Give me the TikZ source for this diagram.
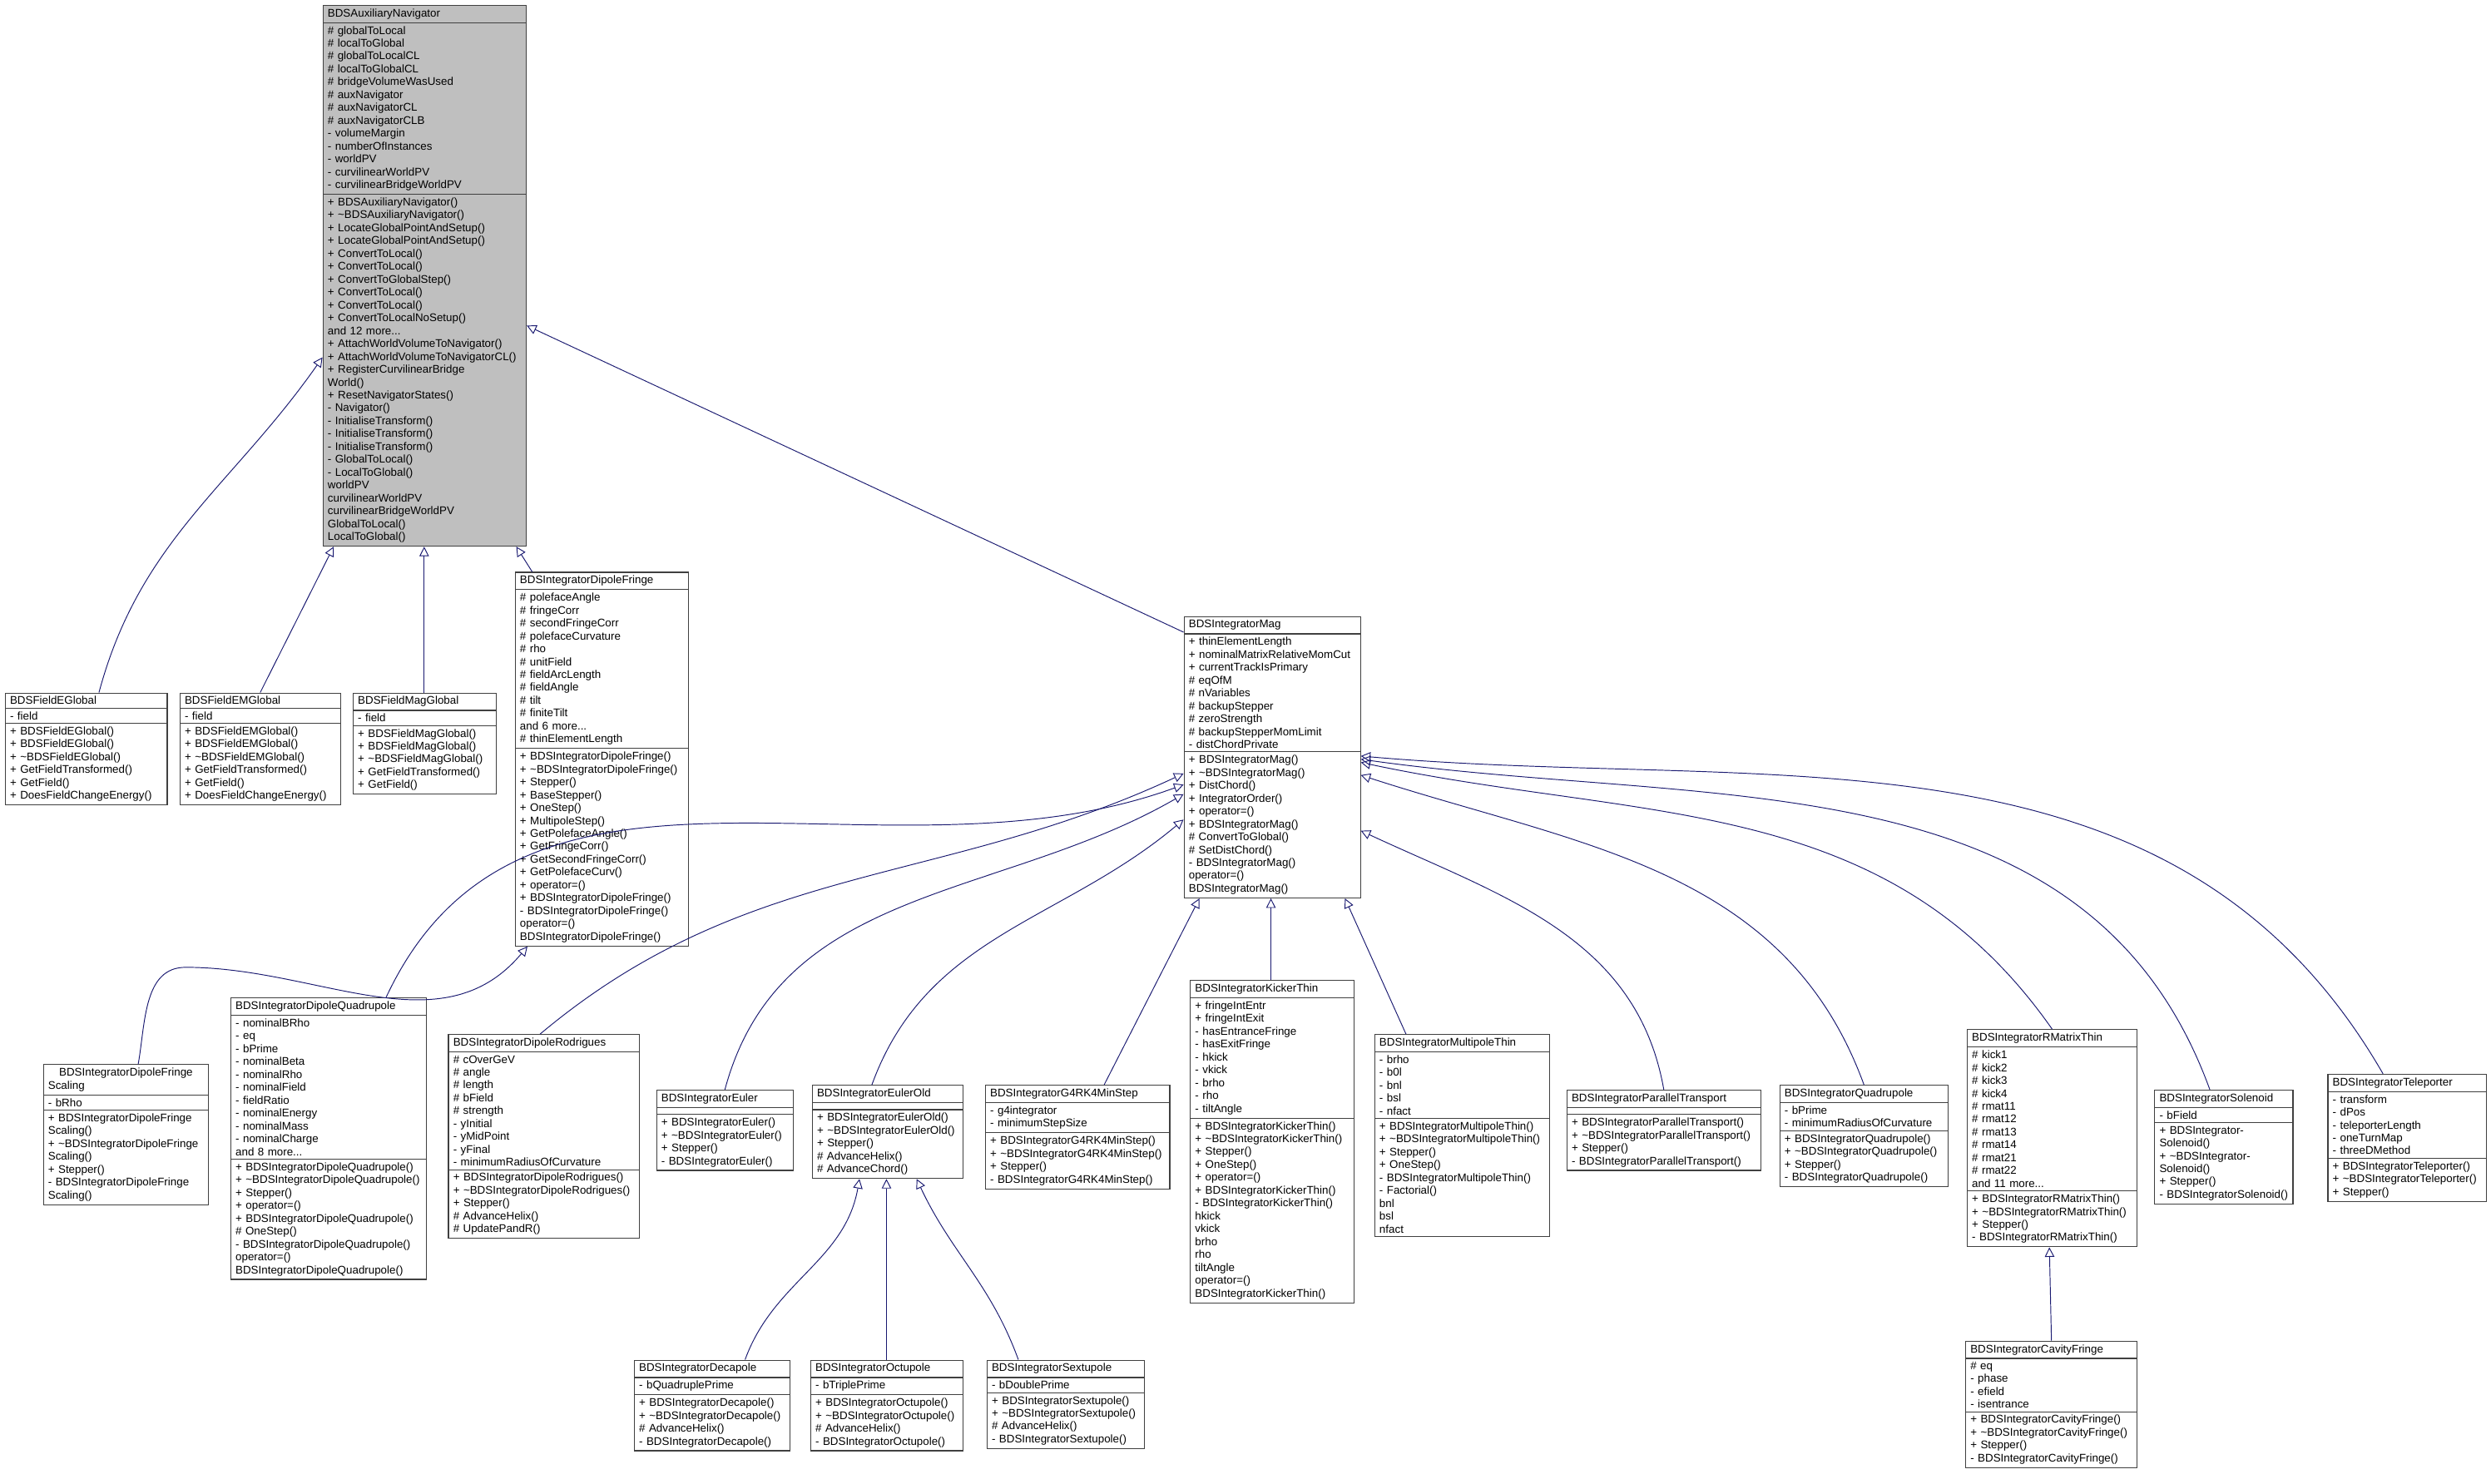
\documentclass[tikz,border=0pt]{standalone}
\usepackage{fontspec}
\setmainfont{Liberation Sans}
\usetikzlibrary{shapes.multipart,arrows.meta,calc}

\definecolor{navyline}{RGB}{25,25,112}
\definecolor{topgray}{RGB}{191,191,191}

\begin{document}
\begin{tikzpicture}[x=1pt,y=-1pt]

% Overall frame
\useasboundingbox (0,0) rectangle (1568,934);

% Styles for classes and inheritance arrows
\tikzset{cls/.style={rectangle split, rectangle split parts=3, draw=black!75, line width=0.6pt,
    anchor=north west, fill=white, align=left, inner xsep=3pt, inner ysep=1.9pt,
    font=\fontsize{7}{8.1}\selectfont},
  inh/.style={draw=navyline, line width=0.5pt, -{Triangle[open,length=6pt,width=6pt]}}}

% Base navigator
\node[cls, fill=topgray, text width=122pt] (nav) at (203,3) {\centering BDSAuxiliaryNavigator
  \nodepart{second}\# globalToLocal\\\# localToGlobal\\\# globalToLocalCL\\\# localToGlobalCL\\\# bridgeVolumeWasUsed\\\# auxNavigator\\\# auxNavigatorCL\\\# auxNavigatorCLB\\- volumeMargin\\- numberOfInstances\\- worldPV\\- curvilinearWorldPV\\- curvilinearBridgeWorldPV
  \nodepart{third}+ BDSAuxiliaryNavigator()\\+ \textasciitilde BDSAuxiliaryNavigator()\\+ LocateGlobalPointAndSetup()\\+ LocateGlobalPointAndSetup()\\+ ConvertToLocal()\\+ ConvertToLocal()\\+ ConvertToGlobalStep()\\+ ConvertToLocal()\\+ ConvertToLocal()\\+ ConvertToLocalNoSetup()\\and 12 more...\\+ AttachWorldVolumeToNavigator()\\+ AttachWorldVolumeToNavigatorCL()\\+ RegisterCurvilinearBridge\\World()\\+ ResetNavigatorStates()\\- Navigator()\\- InitialiseTransform()\\- InitialiseTransform()\\- InitialiseTransform()\\- GlobalToLocal()\\- LocalToGlobal()\\* worldPV\\* curvilinearWorldPV\\* curvilinearBridgeWorldPV\\* GlobalToLocal()\\* LocalToGlobal()};

% Field classes
\node[cls, text width=96pt] (fe) at (3,436) {\centering BDSFieldEGlobal
  \nodepart{second}- field
  \nodepart{third}+ BDSFieldEGlobal()\\+ BDSFieldEGlobal()\\+ \textasciitilde BDSFieldEGlobal()\\+ GetFieldTransformed()\\+ GetField()\\+ DoesFieldChangeEnergy()};
\node[cls, text width=95pt] (fem) at (113,436) {\centering BDSFieldEMGlobal
  \nodepart{second}- field
  \nodepart{third}+ BDSFieldEMGlobal()\\+ BDSFieldEMGlobal()\\+ \textasciitilde BDSFieldEMGlobal()\\+ GetFieldTransformed()\\+ GetField()\\+ DoesFieldChangeEnergy()};
\node[cls, text width=84pt] (fmag) at (222,436) {\centering BDSFieldMagGlobal
  \nodepart{second}- field
  \nodepart{third}+ BDSFieldMagGlobal()\\+ BDSFieldMagGlobal()\\+ \textasciitilde BDSFieldMagGlobal()\\+ GetFieldTransformed()\\+ GetField()};

% Dipole fringe
\node[cls, text width=103pt] (dfr) at (324,360) {\centering BDSIntegratorDipoleFringe
  \nodepart{second}\# polefaceAngle\\\# fringeCorr\\\# secondFringeCorr\\\# polefaceCurvature\\\# rho\\\# unitField\\\# fieldArcLength\\\# fieldAngle\\\# tilt\\\# finiteTilt\\and 6 more...\\\# thinElementLength
  \nodepart{third}+ BDSIntegratorDipoleFringe()\\+ \textasciitilde BDSIntegratorDipoleFringe()\\+ Stepper()\\+ BaseStepper()\\+ OneStep()\\+ MultipoleStep()\\+ GetPolefaceAngle()\\+ GetFringeCorr()\\+ GetSecondFringeCorr()\\+ GetPolefaceCurv()\\+ operator=()\\+ BDSIntegratorDipoleFringe()\\- BDSIntegratorDipoleFringe()\\* operator=()\\* BDSIntegratorDipoleFringe()};

% Integrator mag
\node[cls, text width=105pt] (mag) at (745,388) {\centering BDSIntegratorMag
  \nodepart{second}+ thinElementLength\\+ nominalMatrixRelativeMomCut\\+ currentTrackIsPrimary\\\# eqOfM\\\# nVariables\\\# backupStepper\\\# zeroStrength\\\# backupStepperMomLimit\\- distChordPrivate
  \nodepart{third}+ BDSIntegratorMag()\\+ \textasciitilde BDSIntegratorMag()\\+ DistChord()\\+ IntegratorOrder()\\+ operator=()\\+ BDSIntegratorMag()\\\# ConvertToGlobal()\\\# SetDistChord()\\- BDSIntegratorMag()\\* operator=()\\* BDSIntegratorMag()};

% Third row
\node[cls, text width=98pt] (dfs) at (27,670) {\centering BDSIntegratorDipoleFringe\\Scaling
  \nodepart{second}- bRho
  \nodepart{third}+ BDSIntegratorDipoleFringe\\Scaling()\\+ \textasciitilde BDSIntegratorDipoleFringe\\Scaling()\\+ Stepper()\\- BDSIntegratorDipoleFringe\\Scaling()};
\node[cls, text width=117pt] (dq) at (145,628) {\centering BDSIntegratorDipoleQuadrupole
  \nodepart{second}- nominalBRho\\- eq\\- bPrime\\- nominalBeta\\- nominalRho\\- nominalField\\- fieldRatio\\- nominalEnergy\\- nominalMass\\- nominalCharge\\and 8 more...
  \nodepart{third}+ BDSIntegratorDipoleQuadrupole()\\+ \textasciitilde BDSIntegratorDipoleQuadrupole()\\+ Stepper()\\+ operator=()\\+ BDSIntegratorDipoleQuadrupole()\\\# OneStep()\\- BDSIntegratorDipoleQuadrupole()\\* operator=()\\* BDSIntegratorDipoleQuadrupole()};
\node[cls, text width=114pt] (rod) at (282,651) {\centering BDSIntegratorDipoleRodrigues
  \nodepart{second}\# cOverGeV\\\# angle\\\# length\\\# bField\\\# strength\\- yInitial\\- yMidPoint\\- yFinal\\- minimumRadiusOfCurvature
  \nodepart{third}+ BDSIntegratorDipoleRodrigues()\\+ \textasciitilde BDSIntegratorDipoleRodrigues()\\+ Stepper()\\\# AdvanceHelix()\\\# UpdatePandR()};
\node[cls, text width=80pt] (eul) at (413,686) {\centering BDSIntegratorEuler
  \nodepart{second}\mbox{}
  \nodepart{third}+ BDSIntegratorEuler()\\+ \textasciitilde BDSIntegratorEuler()\\+ Stepper()\\- BDSIntegratorEuler()};
\node[cls, text width=89pt] (eulo) at (511,683) {\centering BDSIntegratorEulerOld
  \nodepart{second}\mbox{}
  \nodepart{third}+ BDSIntegratorEulerOld()\\+ \textasciitilde BDSIntegratorEulerOld()\\+ Stepper()\\\# AdvanceHelix()\\\# AdvanceChord()};
\node[cls, text width=110pt] (rk4) at (620,683) {\centering BDSIntegratorG4RK4MinStep
  \nodepart{second}- g4integrator\\- minimumStepSize
  \nodepart{third}+ BDSIntegratorG4RK4MinStep()\\+ \textasciitilde BDSIntegratorG4RK4MinStep()\\+ Stepper()\\- BDSIntegratorG4RK4MinStep()};
\node[cls, text width=97pt] (kick) at (749,617) {\centering BDSIntegratorKickerThin
  \nodepart{second}+ fringeIntEntr\\+ fringeIntExit\\- hasEntranceFringe\\- hasExitFringe\\- hkick\\- vkick\\- brho\\- rho\\- tiltAngle
  \nodepart{third}+ BDSIntegratorKickerThin()\\+ \textasciitilde BDSIntegratorKickerThin()\\+ Stepper()\\+ OneStep()\\+ operator=()\\+ BDSIntegratorKickerThin()\\- BDSIntegratorKickerThin()\\* hkick\\* vkick\\* brho\\* rho\\* tiltAngle\\* operator=()\\* BDSIntegratorKickerThin()};
\node[cls, text width=104pt] (mpt) at (865,651) {\centering BDSIntegratorMultipoleThin
  \nodepart{second}- brho\\- b0l\\- bnl\\- bsl\\- nfact
  \nodepart{third}+ BDSIntegratorMultipoleThin()\\+ \textasciitilde BDSIntegratorMultipoleThin()\\+ Stepper()\\+ OneStep()\\- BDSIntegratorMultipoleThin()\\- Factorial()\\* bnl\\* bsl\\* nfact};
\node[cls, text width=116pt] (par) at (986,686) {\centering BDSIntegratorParallelTransport
  \nodepart{second}\mbox{}
  \nodepart{third}+ BDSIntegratorParallelTransport()\\+ \textasciitilde BDSIntegratorParallelTransport()\\+ Stepper()\\- BDSIntegratorParallelTransport()};
\node[cls, text width=100pt] (quad) at (1120,683) {\centering BDSIntegratorQuadrupole
  \nodepart{second}- bPrime\\- minimumRadiusOfCurvature
  \nodepart{third}+ BDSIntegratorQuadrupole()\\+ \textasciitilde BDSIntegratorQuadrupole()\\+ Stepper()\\- BDSIntegratorQuadrupole()};
\node[cls, text width=101pt] (rmat) at (1238,648) {\centering BDSIntegratorRMatrixThin
  \nodepart{second}\# kick1\\\# kick2\\\# kick3\\\# kick4\\\# rmat11\\\# rmat12\\\# rmat13\\\# rmat14\\\# rmat21\\\# rmat22\\and 11 more...
  \nodepart{third}+ BDSIntegratorRMatrixThin()\\+ \textasciitilde BDSIntegratorRMatrixThin()\\+ Stepper()\\- BDSIntegratorRMatrixThin()};
\node[cls, text width=81pt] (sol) at (1356,686) {\centering BDSIntegratorSolenoid
  \nodepart{second}- bField
  \nodepart{third}+ BDSIntegratorSolenoid()\\+ \textasciitilde BDSIntegratorSolenoid()\\+ Stepper()\\- BDSIntegratorSolenoid()};
\node[cls, text width=94pt] (tel) at (1465,676) {\centering BDSIntegratorTeleporter
  \nodepart{second}- transform\\- dPos\\- teleporterLength\\- oneTurnMap\\- threeDMethod
  \nodepart{third}+ BDSIntegratorTeleporter()\\+ \textasciitilde BDSIntegratorTeleporter()\\+ Stepper()};

% Bottom row
\node[cls, text width=92pt] (deca) at (399,856) {\centering BDSIntegratorDecapole
  \nodepart{second}- bQuadruplePrime
  \nodepart{third}+ BDSIntegratorDecapole()\\+ \textasciitilde BDSIntegratorDecapole()\\\# AdvanceHelix()\\- BDSIntegratorDecapole()};
\node[cls, text width=90pt] (octu) at (510,856) {\centering BDSIntegratorOctupole
  \nodepart{second}- bTriplePrime
  \nodepart{third}+ BDSIntegratorOctupole()\\+ \textasciitilde BDSIntegratorOctupole()\\\# AdvanceHelix()\\- BDSIntegratorOctupole()};
\node[cls, text width=93pt] (sext) at (621,856) {\centering BDSIntegratorSextupole
  \nodepart{second}- bDoublePrime
  \nodepart{third}+ BDSIntegratorSextupole()\\+ \textasciitilde BDSIntegratorSextupole()\\\# AdvanceHelix()\\- BDSIntegratorSextupole()};
\node[cls, text width=102pt] (cav) at (1237,844) {\centering BDSIntegratorCavityFringe
  \nodepart{second}\# eq\\- phase\\- efield\\- isentrance
  \nodepart{third}+ BDSIntegratorCavityFringe()\\+ \textasciitilde BDSIntegratorCavityFringe()\\+ Stepper()\\- BDSIntegratorCavityFringe()};

% Inheritance to the navigator
\draw[inh] ([xshift=8pt]fe.north) to[out=75,in=-125] ([yshift=-222pt]nav.north west);
\draw[inh] (fem.north) -- ([xshift=7pt]nav.south west);
\draw[inh] ([xshift=45pt]fmag.north west) -- ([xshift=64pt]nav.south west);
\draw[inh] ([xshift=11pt]dfr.north west) -- ([xshift=122pt]nav.south west);
\draw[inh] ([yshift=-10pt]mag.north west) -- ([yshift=-202pt]nav.north east);

% Inheritance to dipole fringe and mag
\draw[inh] ([xshift=60pt]dfs.north west) to[out=80,in=180] ($(dfs.north west)!0.5!(dq.north)+(0,-40)$) to[out=0,in=-130] ([xshift=8pt]dfr.south west);
\draw[inh] ([xshift=98pt]dq.north west) to[out=65,in=-160] ([yshift=-106pt]mag.north west);
\draw[inh] ([xshift=58pt]rod.north west) to[out=40,in=-155] ([yshift=-99pt]mag.north west);
\draw[inh] (eul.north) to[out=75,in=-150] ([yshift=-112pt]mag.north west);
\draw[inh] ([xshift=-10pt]eulo.north) to[out=70,in=-140] ([yshift=-128pt]mag.north west);
\draw[inh] ([xshift=75pt]rk4.north west) -- ([xshift=10pt]mag.south west);
\draw[inh] ([xshift=51pt]kick.north west) -- ([xshift=55pt]mag.south west);
\draw[inh] ([xshift=20pt]mpt.north west) -- ([xshift=-10pt]mag.south east);
\draw[inh] (par.north) to[out=100,in=-25] ([yshift=-135pt]mag.north east);
\draw[inh] (quad.north) to[out=110,in=-18] ([yshift=-100pt]mag.north east);
\draw[inh] (rmat.north) to[out=125,in=-12] ([yshift=-92pt]mag.north east);
\draw[inh] ([xshift=35pt]sol.north west) to[out=110,in=-8] ([yshift=-90pt]mag.north east);
\draw[inh] ([xshift=35pt]tel.north west) to[out=120,in=-5] ([yshift=-88pt]mag.north east);

% Sub-classes of euler old and rmatrix
\draw[inh] ([xshift=70pt]deca.north west) to[out=70,in=-100] ([xshift=30pt]eulo.south west);
\draw[inh] ([xshift=48pt]octu.north west) -- ([xshift=47pt]eulo.south west);
\draw[inh] ([xshift=20pt]sext.north west) to[out=110,in=-65] ([xshift=66pt]eulo.south west);
\draw[inh] (cav.north) -- ([xshift=52pt]rmat.south west);

\end{tikzpicture}
\end{document}
